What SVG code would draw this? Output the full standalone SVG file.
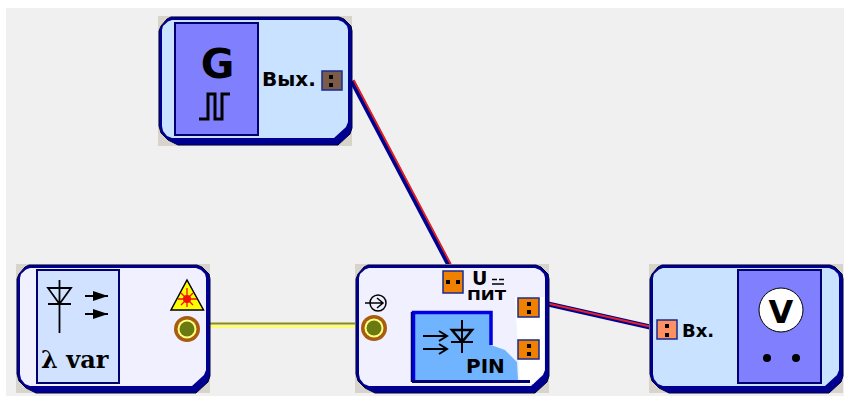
<svg xmlns="http://www.w3.org/2000/svg" width="844" height="396" viewBox="0 0 844 396">
<defs>
<style>
.corner{fill:#d8d4cc}
.shell{fill:#000090;stroke:#000040;stroke-width:1}
.light{fill:#c8e2ff}
.pale{fill:#f0f0ff}
.lbl{font-family:"DejaVu Sans",sans-serif;font-weight:bold;fill:#000}
.pin{stroke:#1a2a90;stroke-width:1.5}
.pinO{fill:#f08000}
.dot{fill:#000}
.line{fill:none;stroke:#000;stroke-width:2}
.panel{stroke:#000070;stroke-width:2}
.wireB{fill:none;stroke:#000090;stroke-width:5}
.wireR{fill:none;stroke:#e82020;stroke-width:1.8}
</style>
<path id="outer" d="M13 1H181L186 3L193 10L194 15V112L192 118L180 129H20L10 124L3 117L1 110V15L3 10L9 3Z"/>
<path id="inner" d="M14 4H180L185 6L189 10L190 14V106L188 111L176 122H14L9 120L5 115L4 110V14L5 10L10 5.500Z"/>
</defs>
<rect width="844" height="396" fill="#fff"/>
<rect x="6" y="8" width="838" height="388" fill="#f0f0f0"/>
<g id="connectors">
<path class="wireB" d="M352 81L449 265"/>
<path class="wireR" d="M353.700 80L450.700 264"/>
<path class="wireB" d="M548 304L650 327"/>
<path class="wireR" d="M548 303.500L650 326.500"/>
<path d="M205 323.500H360" fill="none" stroke="#8a8a20" stroke-width="2"/>
<path d="M205 326.500H360" fill="none" stroke="#ffff60" stroke-width="2.500"/>
</g>
<g id="generator" transform="translate(158 16)">
<rect class="corner" width="194" height="130"/>
<use href="#outer" class="shell"/>
<use href="#inner" class="light"/>
<rect x="17" y="7" width="83" height="112" fill="#8080ff" class="panel"/>
<text class="lbl" x="59.500" y="62" font-size="41" text-anchor="middle">G</text>
<path class="line" style="stroke-width:3" d="M41 103H50V78H57V103H64V78H72"/>
<text class="lbl" x="104" y="70" font-size="20">Вых.</text>
<rect class="pin" x="164" y="55" width="20" height="19" fill="#7a5c48"/>
<rect class="dot" x="171" y="59" width="4" height="4"/><rect class="dot" x="171" y="67" width="4" height="4"/>
</g>
<g id="laser" transform="translate(16 264)">
<rect class="corner" width="194" height="129"/>
<use href="#outer" class="shell"/>
<use href="#inner" class="pale"/>
<rect x="21" y="6" width="82" height="113" fill="#d0e2ff" class="panel"/>
<path class="line" d="M32 24H55L43.500 40ZM32 40H55M43.500 16V69" style="stroke-width:1.800"/>
<path class="line" d="M69 32H92M69 50H92"/>
<path d="M77 27L92 32L77 37ZM77 45L92 50L77 55Z" fill="#000"/>
<text x="25" y="104" font-size="24" font-weight="bold" font-family="DejaVu Serif, serif">λ var</text>
<path d="M171 16L187.500 46H155Z" fill="#ffff00" stroke="#000" stroke-width="1.500"/>
<path d="M171 24V43M162 35H181M165 29L177 41M177 29L165 41" stroke="#f01010" stroke-width="1.300"/>
<circle cx="171" cy="35" r="4" fill="#f01010"/>
<circle cx="171" cy="65" r="13" fill="#a85c10"/>
<circle cx="171" cy="65" r="9.500" fill="#ffff80"/>
<circle cx="171" cy="65" r="7.500" fill="#6a7a10"/>
</g>
<g id="detector" transform="translate(355 264)">
<rect class="corner" width="194" height="129"/>
<use href="#outer" class="shell"/>
<use href="#inner" class="pale"/>
<path d="M160 33H189V108L178 120H165Z" fill="#fff"/>
<path d="M58 48H136V81L150 86L162 98L163 116H58Z" fill="#70b4ff"/>
<path d="M58.500 117V48.500H136V81" fill="none" stroke="#0000e0" stroke-width="3.500"/>
<path d="M56.500 48V118" fill="none" stroke="#000070" stroke-width="1.500"/>
<path d="M57 117.500H175" fill="none" stroke="#000070" stroke-width="3"/>
<path class="line" d="M68 72H91M68 85H91M96 78H118M107 56V89"/>
<path d="M97 66H117L107 78Z" fill="none" stroke="#000" stroke-width="2.500"/>
<path class="line" d="M84 67L92 72L84 77M84 80L92 85L84 90"/>
<text class="lbl" x="111" y="109" font-size="20">PIN</text>
<circle cx="23" cy="39" r="8" fill="none" stroke="#000" stroke-width="1.500"/>
<path d="M10 39H27M22 34L28 39L22 44" fill="none" stroke="#000" stroke-width="1.500"/>
<circle cx="19" cy="64" r="13" fill="#a85c10"/>
<circle cx="19" cy="64" r="9.500" fill="#ffff80"/>
<circle cx="19" cy="64" r="7.500" fill="#6a7a10"/>
<rect class="pin pinO" x="88" y="7" width="20" height="22"/>
<rect class="dot" x="91" y="16" width="4" height="4"/><rect class="dot" x="101" y="16" width="4" height="4"/>
<text class="lbl" x="117" y="21" font-size="19">U</text>
<path d="M137 15.500H149" stroke="#000" stroke-width="1.500" stroke-dasharray="5 2"/>
<path d="M137 20H149" stroke="#000" stroke-width="1.500"/>
<text class="lbl" x="112" y="36" font-size="14" textLength="39" lengthAdjust="spacingAndGlyphs">ПИТ</text>
<rect class="pin pinO" x="163" y="34" width="21" height="19"/>
<rect class="dot" x="172" y="38" width="4" height="4"/><rect class="dot" x="172" y="46" width="4" height="4"/>
<rect class="pin pinO" x="163" y="76" width="21" height="19"/>
<rect class="dot" x="172" y="80" width="4" height="4"/><rect class="dot" x="172" y="88" width="4" height="4"/>
</g>
<g id="voltmeter" transform="translate(649 264)">
<rect class="corner" width="194" height="129"/>
<use href="#outer" class="shell"/>
<use href="#inner" class="light"/>
<rect x="89" y="6" width="83" height="113" fill="#8080ff" class="panel"/>
<circle cx="132" cy="46" r="22" fill="#fff" stroke="#000" stroke-width="1"/>
<text class="lbl" x="132" y="59" font-size="32" text-anchor="middle">V</text>
<circle class="dot" cx="118" cy="94" r="4"/><circle class="dot" cx="147" cy="94" r="4"/>
<rect class="pin" x="8" y="56" width="20" height="19" fill="#ff9060"/>
<rect class="dot" x="16" y="60" width="4" height="4"/><rect class="dot" x="16" y="69" width="4" height="4"/>
<text class="lbl" x="33" y="73" font-size="18">Вх.</text>
</g>
</svg>
